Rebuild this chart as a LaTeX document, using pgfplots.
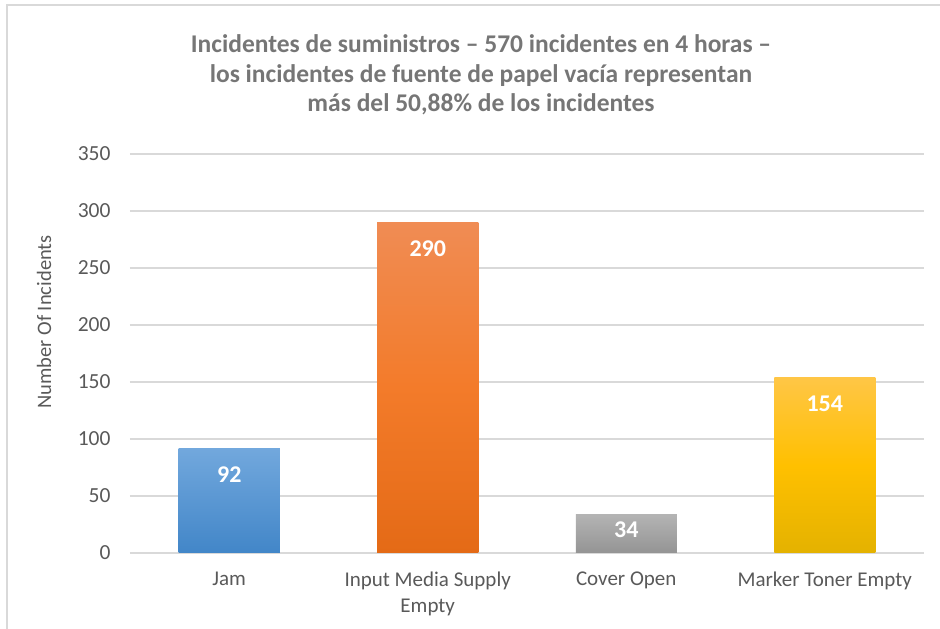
\documentclass[border=0pt]{standalone}
\usepackage{fontspec}
\setmainfont{Carlito}
\usepackage{pgfplots}
\pgfplotsset{compat=1.18}
\definecolor{txt}{RGB}{89,89,89}
\definecolor{ttl}{RGB}{118,118,118}
\definecolor{gridc}{RGB}{217,217,217}
\definecolor{framec}{RGB}{217,217,217}
\definecolor{bluet}{RGB}{114,168,221}
\definecolor{blueb}{RGB}{66,134,200}
\definecolor{oranget}{RGB}{240,140,84}
\definecolor{orangem}{RGB}{243,123,42}
\definecolor{orangeb}{RGB}{228,106,22}
\definecolor{grayt}{RGB}{180,180,180}
\definecolor{grayb}{RGB}{148,148,148}
\definecolor{goldt}{RGB}{255,198,70}
\definecolor{goldm}{RGB}{255,192,0}
\definecolor{goldb}{RGB}{228,178,0}
\begin{document}
\begin{tikzpicture}
\useasboundingbox (0,0) rectangle (940pt,629pt);
\begin{scope}
\clip (0,0) rectangle (940pt,629pt);
\draw[framec, line width=1.5pt] (7pt,-20pt) rectangle (960pt,624pt);
\end{scope}
\node[align=center, text=ttl, font=\bfseries\fontsize{25.5}{29.5}\selectfont] at (481pt,554pt)
  {Incidentes de suministros – 570 incidentes en 4 horas –\\
   los incidentes de fuente de papel vacía representan\\
   más del 50,88\% de los incidentes};
\begin{axis}[
  at={(130pt,76pt)}, anchor=south west,
  scale only axis, width=794pt, height=399pt,
  xmin=-0.5, xmax=3.5, ymin=0, ymax=350,
  ytick={0,50,...,350},
  xtick={0,1,2,3},
  xticklabels={Jam,{Input Media Supply\\Empty},Cover Open,Marker Toner Empty},
  ymajorgrids,
  grid style={gridc, line width=1.4pt},
  axis line style={draw=none},
  major tick length=0pt,
  /pgf/number format/assume math mode=true,
  yticklabel style={text=txt, font=\fontsize{21.5}{25}\selectfont, anchor=east, xshift=-16pt},
  xticklabel style={text=txt, font=\fontsize{21}{26}\selectfont, align=center, anchor=north, yshift=-15pt},
  ylabel={Number Of Incidents},
  ylabel style={at={(axis description cs:-0.1083,0.579)}, anchor=center, text=txt, font=\fontsize{20.5}{24}\selectfont},
  ybar, bar width=101pt,
  nodes near coords,
  every node near coord/.append style={text=white, font=\bfseries\fontsize{24}{28}\selectfont, anchor=center, yshift=-26.5pt},
]
\addplot[bar shift=0pt, draw=none, top color=bluet, bottom color=blueb] coordinates {(0,92)};
\addplot[bar shift=0pt, draw=none, top color=oranget, bottom color=orangeb, middle color=orangem] coordinates {(1,290)};
\addplot[bar shift=0pt, draw=none, top color=grayt, bottom color=grayb,
  every node near coord/.append style={yshift=11.5pt}] coordinates {(2,34)};
\addplot[bar shift=0pt, draw=none, top color=goldt, bottom color=goldb, middle color=goldm] coordinates {(3,154)};
\end{axis}
\end{tikzpicture}
\end{document}
